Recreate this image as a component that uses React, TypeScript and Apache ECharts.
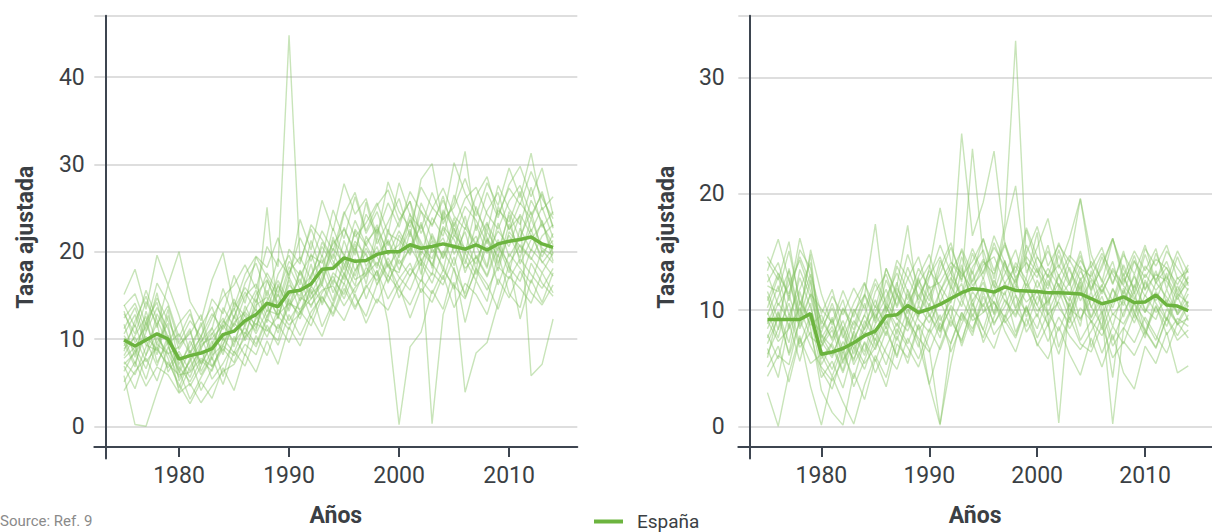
import React, { useEffect, useRef } from 'react';
import * as echarts from 'echarts';

const years = [
  1975, 1976, 1977, 1978, 1979, 1980, 1981, 1982, 1983, 1984,
  1985, 1986, 1987, 1988, 1989, 1990, 1991, 1992, 1993, 1994,
  1995, 1996, 1997, 1998, 1999, 2000, 2001, 2002, 2003, 2004,
  2005, 2006, 2007, 2008, 2009, 2010, 2011, 2012, 2013, 2014,
];
const xTickValues = [1980, 1990, 2000, 2010];

// Left panel: España (thick line)
const leftSpain = [9.9, 9.2, 9.9, 10.6, 10.0, 7.7, 8.1, 8.4, 8.9, 10.5, 10.9, 12.1, 12.8, 14.1, 13.7, 15.4, 15.6, 16.3, 18.0, 18.1, 19.3, 18.9, 19.0, 19.7, 20.0, 20.0, 20.8, 20.4, 20.6, 20.9, 20.6, 20.3, 20.8, 20.2, 20.9, 21.2, 21.4, 21.7, 20.9, 20.5];

// Left panel: provinces (thin lines)
const leftProvinces = [
  [13.8, 15.2, 11.6, 16.4, 14.1, 10.2, 12.9, 9.6, 12.4, 14.8, 16.2, 18.5, 15.7, 20.6, 18.3, 44.8, 18.9, 22.6, 19.4, 24.8, 21.5, 26.3, 22.1, 24.6, 20.7, 23.4, 25.8, 19.6, 23.9, 21.8, 26.5, 23.2, 20.9, 24.7, 26.8, 22.5, 25.6, 23.8, 26.9, 22.7],
  [5.8, 0.2, 0.0, 3.9, 7.4, 4.8, 2.6, 5.1, 3.2, 6.7, 4.1, 8.3, 6.2, 9.8, 7.1, 11.4, 9.2, 12.6, 10.3, 13.9, 12.1, 15.2, 11.8, 14.6, 13.3, 16.1, 12.4, 15.8, 14.2, 17.3, 13.6, 16.4, 15.1, 12.8, 16.9, 14.7, 17.8, 15.3, 13.9, 16.2],
  [15.1, 18.0, 13.4, 19.6, 16.2, 20.0, 14.3, 12.1, 16.8, 19.9, 13.7, 17.4, 19.5, 18.2, 21.6, 16.9, 23.7, 20.2, 25.9, 22.4, 27.8, 24.3, 26.1, 21.7, 28.0, 24.6, 22.8, 27.4, 25.1, 23.6, 30.2, 26.7, 24.1, 27.9, 25.3, 29.6, 26.2, 31.3, 24.8, 26.3],
  [9.2, 11.6, 8.1, 12.9, 10.3, 6.4, 9.8, 7.2, 10.6, 12.4, 9.1, 13.8, 11.2, 15.6, 12.3, 17.1, 14.4, 15.9, 19.6, 16.2, 21.3, 17.8, 20.4, 18.1, 22.6, 19.3, 23.8, 20.7, 19.2, 22.9, 21.4, 18.6, 23.1, 19.8, 22.4, 20.6, 24.3, 21.9, 19.4, 22.1],
  [6.3, 8.7, 5.4, 9.6, 11.8, 5.2, 7.6, 10.4, 6.8, 9.3, 12.7, 10.1, 14.6, 11.9, 16.3, 13.2, 17.8, 14.6, 16.7, 19.8, 17.4, 20.9, 16.3, 21.7, 18.2, 17.6, 22.3, 18.9, 21.2, 17.8, 23.4, 19.1, 16.7, 21.6, 18.4, 23.2, 19.9, 22.6, 18.7, 20.4],
  [11.7, 7.9, 13.2, 9.4, 8.3, 9.1, 11.2, 6.3, 8.7, 11.4, 13.6, 9.8, 12.3, 13.9, 10.7, 14.8, 16.9, 13.6, 17.2, 20.4, 18.6, 16.1, 21.8, 19.4, 17.2, 21.9, 19.6, 23.4, 18.1, 24.6, 19.7, 22.3, 17.9, 23.2, 20.8, 17.6, 22.7, 20.1, 23.6, 18.9],
  [8.1, 10.4, 12.6, 7.3, 9.7, 3.9, 6.8, 8.9, 5.4, 7.2, 9.6, 11.3, 9.4, 12.6, 15.2, 12.1, 14.3, 18.6, 13.9, 16.8, 15.1, 19.2, 14.6, 17.9, 11.8, 0.2, 9.1, 10.8, 15.6, 13.4, 18.2, 11.9, 16.7, 14.3, 19.8, 15.2, 13.6, 18.7, 16.4, 14.9],
  [7.4, 5.9, 9.1, 11.8, 6.2, 8.3, 4.6, 6.9, 9.8, 5.7, 10.3, 8.1, 12.7, 10.2, 13.4, 11.6, 12.9, 15.7, 11.4, 14.2, 17.6, 14.8, 12.6, 16.3, 18.9, 14.7, 17.3, 19.2, 0.3, 12.8, 16.5, 3.9, 8.4, 9.6, 14.1, 18.6, 12.3, 16.8, 14.2, 17.6],
  [13.2, 9.6, 11.4, 14.7, 12.1, 9.4, 10.6, 12.8, 8.2, 13.6, 11.4, 14.9, 16.3, 13.1, 17.4, 19.6, 16.2, 21.3, 17.6, 22.7, 19.4, 23.6, 20.8, 18.4, 22.1, 21.3, 19.8, 24.7, 21.4, 19.6, 23.9, 20.1, 21.8, 18.3, 25.2, 22.6, 24.1, 5.8, 7.1, 12.3],
  [10.6, 12.8, 9.3, 8.7, 13.4, 7.1, 9.2, 11.5, 13.7, 9.8, 14.2, 12.6, 10.9, 16.7, 14.1, 18.3, 15.7, 17.2, 20.6, 18.4, 22.8, 19.6, 25.7, 20.9, 23.4, 26.1, 21.7, 28.3, 30.1, 23.2, 25.6, 31.5, 22.4, 26.8, 23.9, 27.7, 29.8, 26.3, 29.6, 24.2],
  [4.1, 6.3, 7.8, 5.2, 9.1, 6.4, 3.1, 5.6, 7.9, 4.8, 8.6, 6.9, 10.4, 8.1, 11.7, 9.6, 13.2, 11.5, 14.8, 12.9, 16.4, 13.7, 15.9, 17.8, 14.6, 16.9, 18.7, 15.3, 17.6, 16.2, 19.4, 14.8, 17.9, 15.6, 18.3, 16.9, 19.2, 17.4, 15.8, 18.1],
  [12.4, 14.1, 10.9, 15.3, 9.6, 11.8, 13.4, 8.9, 11.2, 15.8, 12.3, 16.4, 18.7, 14.9, 19.2, 17.3, 21.6, 18.9, 22.4, 20.1, 24.6, 21.7, 23.3, 25.6, 22.1, 27.9, 24.2, 22.6, 26.8, 23.7, 25.1, 28.4, 24.7, 22.3, 27.6, 24.9, 23.1, 27.4, 22.8, 24.6],
  [7.8, 9.1, 6.6, 10.2, 8.4, 5.6, 7.4, 9.7, 11.3, 8.2, 12.6, 15.4, 13.2, 25.1, 12.4, 16.8, 13.1, 14.6, 16.2, 13.8, 17.4, 15.3, 18.2, 16.7, 19.3, 17.1, 15.6, 18.8, 16.4, 20.1, 17.9, 15.2, 19.6, 17.3, 21.4, 18.2, 16.6, 20.3, 18.9, 17.2],
  [10.1, 7.2, 10.8, 13.6, 11.2, 6.8, 5.1, 7.6, 6.3, 10.1, 8.4, 11.7, 13.4, 11.1, 9.8, 14.6, 12.3, 16.1, 14.2, 17.6, 16.3, 20.4, 17.1, 22.8, 19.7, 20.8, 23.6, 21.1, 18.4, 22.7, 20.3, 24.1, 19.2, 21.4, 17.8, 22.3, 20.6, 19.1, 21.8, 23.1],
  [5.1, 7.4, 4.6, 6.8, 5.9, 3.8, 4.9, 2.7, 4.6, 6.3, 7.1, 9.4, 8.2, 11.6, 9.3, 12.8, 10.4, 13.1, 14.9, 12.6, 15.8, 13.4, 16.2, 14.1, 17.3, 15.6, 13.9, 16.8, 15.2, 17.9, 16.1, 14.6, 18.1, 16.3, 13.4, 17.2, 15.8, 14.1, 17.6, 15.3],
  [8.6, 12.1, 14.9, 11.3, 16.2, 12.7, 8.4, 10.2, 14.6, 12.9, 17.3, 14.1, 19.4, 17.1, 14.8, 20.3, 18.6, 23.1, 21.4, 19.2, 24.3, 26.8, 22.4, 25.3, 27.1, 23.6, 25.8, 22.1, 24.9, 27.3, 24.1, 22.6, 26.4, 28.6, 24.2, 27.3, 25.4, 29.2, 26.1, 23.8],
  [9.6, 6.8, 11.9, 8.2, 12.7, 8.8, 10.9, 7.1, 9.4, 12.1, 10.8, 13.2, 15.6, 12.4, 16.1, 13.8, 17.9, 15.2, 16.4, 21.7, 17.9, 22.4, 18.3, 20.6, 16.4, 19.7, 22.6, 17.4, 21.8, 19.2, 22.7, 17.6, 20.9, 23.4, 18.7, 21.9, 19.3, 23.8, 20.4, 19.6],
  [11.2, 13.6, 9.8, 6.9, 10.4, 7.9, 5.6, 9.1, 10.7, 8.6, 11.9, 13.1, 11.6, 14.4, 16.7, 14.2, 12.8, 17.4, 19.1, 15.3, 18.4, 21.2, 19.6, 17.2, 21.4, 18.6, 20.3, 23.1, 19.9, 21.6, 18.4, 22.8, 20.7, 18.1, 23.3, 19.4, 21.7, 24.6, 19.9, 21.3],
  [6.9, 4.3, 8.2, 10.6, 7.8, 4.4, 7.9, 4.1, 6.6, 8.9, 7.3, 10.8, 9.1, 12.3, 11.2, 13.7, 15.8, 12.4, 15.3, 17.2, 14.6, 17.8, 19.9, 16.2, 18.6, 15.9, 18.1, 16.6, 20.4, 18.3, 15.7, 19.9, 17.4, 20.6, 16.2, 19.8, 18.1, 16.4, 20.2, 18.7],
  [13.9, 11.4, 15.6, 12.2, 9.4, 10.6, 8.3, 11.9, 7.6, 11.8, 14.6, 11.4, 15.1, 16.8, 13.6, 17.7, 19.4, 16.8, 21.1, 18.9, 16.8, 22.6, 20.7, 23.1, 19.6, 22.4, 20.1, 25.6, 22.9, 26.4, 21.8, 25.2, 23.6, 20.9, 24.8, 23.4, 26.9, 22.3, 25.1, 21.6],
  [8.9, 10.2, 7.4, 9.1, 6.7, 8.6, 6.3, 9.4, 10.1, 11.6, 9.7, 12.9, 10.6, 13.3, 12.8, 14.1, 13.4, 15.1, 17.8, 14.4, 19.2, 16.8, 17.6, 19.8, 21.2, 17.9, 20.6, 18.4, 22.1, 19.3, 21.9, 20.4, 18.6, 22.3, 20.1, 24.2, 18.6, 21.4, 23.2, 20.8],
  [10.4, 8.6, 12.1, 14.2, 9.3, 6.1, 8.7, 5.9, 8.1, 9.4, 11.8, 10.6, 13.9, 14.8, 12.7, 16.2, 14.9, 19.8, 16.1, 21.3, 19.7, 17.2, 21.1, 22.6, 18.3, 20.2, 24.4, 19.1, 17.3, 24.8, 22.6, 19.8, 25.2, 21.6, 19.4, 24.6, 21.3, 25.9, 23.4, 19.8],
  [7.1, 8.4, 10.3, 8.8, 7.1, 5.9, 6.2, 7.8, 6.9, 9.2, 8.1, 10.2, 11.8, 10.9, 12.6, 11.1, 14.8, 13.9, 15.6, 16.1, 13.8, 15.9, 17.4, 18.8, 16.6, 19.1, 17.2, 20.1, 18.6, 16.8, 20.8, 18.1, 19.4, 17.1, 20.6, 18.6, 20.8, 19.3, 17.6, 19.9],
  [12.9, 10.6, 14.3, 11.7, 13.8, 9.6, 12.1, 10.3, 12.9, 11.1, 13.4, 15.9, 14.2, 17.6, 15.3, 18.9, 17.3, 19.6, 18.7, 20.9, 22.6, 20.1, 24.3, 22.1, 25.6, 22.8, 26.9, 24.6, 23.1, 25.9, 22.9, 26.1, 27.4, 24.3, 22.6, 25.8, 27.6, 24.2, 26.6, 22.9],
];

// Right panel: España (thick line)
const rightSpain = [9.2, 9.2, 9.2, 9.2, 9.7, 6.2, 6.4, 6.7, 7.2, 7.8, 8.2, 9.5, 9.6, 10.4, 9.8, 10.1, 10.5, 11.0, 11.5, 11.85, 11.75, 11.55, 12.0, 11.7, 11.65, 11.6, 11.5, 11.5, 11.45, 11.4, 11.0, 10.55, 10.8, 11.15, 10.65, 10.7, 11.3, 10.45, 10.35, 9.95];

// Right panel: provinces (thin lines)
const rightProvinces = [
  [12.4, 14.1, 10.8, 15.2, 13.6, 8.4, 10.2, 7.6, 9.8, 11.3, 8.9, 12.6, 10.4, 13.7, 11.2, 12.9, 14.6, 11.8, 15.3, 13.1, 16.2, 12.7, 17.4, 33.2, 14.1, 12.8, 15.6, 11.9, 14.3, 12.6, 13.8, 11.4, 13.6, 12.2, 14.7, 11.8, 13.1, 12.5, 10.9, 12.8],
  [9.8, 7.6, 11.3, 8.4, 10.6, 5.3, 7.1, 4.8, 8.2, 6.4, 9.7, 7.8, 11.4, 9.2, 12.6, 10.8, 14.3, 12.1, 25.2, 16.4, 19.3, 23.7, 15.8, 13.2, 17.1, 14.6, 12.9, 15.8, 13.4, 11.7, 14.2, 12.6, 10.8, 13.9, 11.6, 14.8, 12.3, 13.7, 11.4, 12.9],
  [14.2, 12.6, 15.9, 10.4, 13.1, 9.7, 11.8, 8.3, 10.6, 12.4, 9.1, 13.6, 11.2, 14.8, 12.1, 10.3, 13.7, 15.8, 12.4, 23.9, 14.6, 11.9, 16.8, 20.7, 13.2, 15.4, 17.9, 13.6, 16.2, 19.6, 14.8, 12.4, 16.1, 13.5, 11.9, 15.3, 13.8, 15.6, 12.7, 13.4],
  [2.9, 0.0, 4.6, 7.8, 3.4, 0.1, 4.3, 2.1, 0.2, 3.6, 6.1, 4.2, 7.8, 5.4, 8.7, 3.6, 6.9, 9.4, 7.2, 10.6, 8.3, 11.4, 9.1, 7.6, 10.2, 8.4, 11.3, 6.8, 9.6, 12.1, 8.9, 10.7, 7.4, 9.8, 11.6, 8.2, 10.4, 7.9, 9.3, 8.6],
  [5.9, 9.8, 7.2, 11.6, 8.4, 3.1, 1.2, 0.1, 4.6, 2.3, 5.8, 3.4, 7.1, 5.9, 8.8, 6.7, 0.2, 5.4, 9.6, 7.8, 11.2, 8.9, 10.3, 12.7, 9.4, 11.8, 8.6, 10.9, 12.4, 9.1, 11.6, 8.3, 10.7, 13.2, 9.8, 7.6, 11.4, 9.2, 12.1, 10.3],
  [13.4, 16.1, 12.6, 9.3, 15.2, 11.4, 8.7, 10.9, 7.4, 9.6, 12.3, 10.1, 13.8, 11.6, 9.4, 12.8, 15.6, 13.2, 11.4, 14.9, 12.7, 15.8, 13.4, 11.6, 16.9, 13.8, 12.1, 15.2, 12.4, 14.7, 11.9, 13.6, 16.2, 12.9, 15.1, 13.4, 15.3, 11.8, 14.6, 12.1],
  [8.4, 10.6, 9.1, 12.8, 10.2, 7.3, 5.9, 8.6, 6.2, 9.1, 7.4, 10.3, 8.6, 11.4, 9.2, 8.1, 11.7, 9.3, 13.6, 10.8, 12.4, 9.7, 14.2, 11.3, 9.8, 12.6, 10.4, 13.1, 9.6, 12.8, 10.3, 8.7, 11.9, 9.4, 12.2, 10.1, 9.2, 11.8, 9.6, 10.8],
  [11.2, 8.3, 13.6, 9.7, 14.8, 6.8, 9.4, 5.7, 8.1, 10.6, 6.9, 9.8, 12.4, 8.6, 11.3, 9.7, 7.6, 12.1, 10.3, 13.4, 9.8, 11.6, 14.3, 10.2, 12.8, 16.7, 9.4, 0.3, 11.2, 8.6, 13.4, 10.1, 4.2, 11.7, 9.3, 12.6, 10.8, 13.2, 9.6, 11.4],
  [6.7, 4.2, 8.9, 5.6, 9.3, 4.8, 3.2, 6.4, 4.1, 7.3, 5.6, 8.2, 6.1, 9.4, 7.3, 3.6, 0.1, 7.2, 9.8, 8.1, 11.6, 8.7, 10.9, 9.6, 12.3, 10.4, 8.8, 11.7, 9.2, 12.4, 6.8, 9.6, 0.2, 8.4, 10.6, 7.9, 10.3, 8.6, 11.2, 9.1],
  [9.6, 12.1, 8.4, 13.5, 11.1, 7.6, 9.2, 6.6, 10.1, 8.3, 11.6, 13.1, 10.2, 12.7, 14.6, 11.3, 13.1, 15.4, 12.9, 14.2, 16.1, 13.4, 15.8, 12.6, 14.9, 17.2, 13.8, 15.6, 14.2, 19.6, 13.7, 15.4, 12.3, 14.8, 13.1, 15.6, 12.4, 15.1, 13.6, 12.3],
  [10.8, 13.2, 11.4, 14.6, 12.3, 7.8, 6.1, 8.4, 5.3, 7.2, 4.6, 6.8, 8.9, 7.1, 9.6, 12.1, 8.4, 10.2, 6.9, 9.7, 7.6, 10.8, 8.2, 6.4, 9.3, 7.1, 5.8, 8.6, 6.2, 4.4, 7.6, 5.1, 7.9, 4.6, 3.2, 6.9, 5.4, 8.1, 4.6, 5.2],
  [7.1, 9.4, 6.3, 10.8, 8.7, 9.6, 7.4, 10.1, 8.3, 11.2, 17.4, 9.8, 12.1, 17.3, 10.4, 13.6, 18.8, 14.2, 12.6, 15.3, 13.1, 16.4, 14.1, 12.2, 15.6, 13.4, 11.8, 14.7, 12.3, 15.1, 11.6, 13.9, 16.2, 12.4, 14.3, 11.7, 14.9, 12.6, 15.1, 13.2],
  [12.1, 11.6, 15.1, 10.8, 9.2, 8.1, 10.6, 7.9, 5.6, 8.7, 10.9, 8.4, 11.2, 9.1, 6.8, 10.6, 8.2, 11.4, 13.9, 10.3, 12.8, 9.6, 12.4, 10.1, 11.8, 9.4, 12.6, 10.2, 8.9, 11.7, 9.3, 11.2, 8.6, 11.9, 9.7, 12.4, 10.6, 9.1, 11.4, 10.6],
  [5.1, 6.9, 3.8, 7.6, 5.4, 6.2, 4.3, 6.9, 3.4, 5.7, 8.1, 6.3, 4.9, 7.6, 5.8, 8.4, 6.6, 9.1, 7.4, 10.2, 8.3, 6.7, 9.6, 7.8, 10.4, 6.9, 8.8, 6.2, 9.4, 7.1, 6.4, 8.7, 5.9, 7.3, 6.1, 8.2, 6.7, 9.3, 7.4, 8.3],
  [11.6, 9.2, 12.8, 8.6, 11.4, 10.1, 8.9, 11.7, 9.4, 12.3, 10.2, 13.6, 11.4, 9.7, 12.9, 14.8, 11.6, 13.3, 15.1, 12.4, 14.2, 13.1, 15.6, 12.8, 14.1, 11.9, 13.6, 12.1, 10.8, 13.4, 11.7, 14.6, 12.2, 15.1, 11.4, 13.8, 12.6, 14.2, 11.6, 13.6],
  [7.9, 5.8, 9.7, 6.8, 8.1, 4.2, 5.6, 3.3, 6.8, 4.9, 7.6, 5.3, 8.4, 6.8, 5.1, 7.9, 9.6, 6.4, 8.8, 10.9, 7.2, 9.4, 11.6, 8.1, 10.3, 7.6, 9.8, 8.2, 10.6, 7.4, 9.1, 6.3, 8.6, 7.1, 9.7, 8.3, 6.8, 9.4, 7.8, 9.6],
  [10.2, 12.9, 9.6, 11.8, 14.1, 7.2, 8.6, 6.3, 9.1, 7.8, 10.4, 8.7, 11.9, 10.2, 12.8, 9.4, 11.6, 13.8, 10.9, 12.6, 14.4, 11.2, 13.1, 15.2, 11.8, 13.6, 10.6, 12.9, 11.4, 13.8, 10.2, 12.1, 14.2, 10.8, 12.9, 11.2, 13.4, 10.6, 12.8, 11.7],
  [8.8, 11.1, 13.4, 9.2, 12.6, 5.8, 7.2, 9.1, 6.7, 8.4, 9.9, 11.8, 9.2, 10.6, 12.3, 13.9, 10.7, 12.8, 11.2, 13.7, 15.2, 12.1, 11.3, 14.1, 12.6, 10.4, 13.1, 11.1, 13.7, 10.8, 12.6, 9.6, 11.8, 10.4, 13.1, 9.8, 12.4, 11.1, 9.8, 11.9],
  [6.2, 8.4, 10.6, 7.1, 9.6, 6.6, 4.9, 7.3, 5.8, 8.1, 6.6, 9.1, 7.4, 10.1, 8.3, 9.6, 8.1, 10.4, 9.1, 11.6, 10.3, 12.6, 10.8, 9.4, 11.8, 9.9, 10.8, 12.3, 10.1, 9.3, 10.9, 12.2, 9.6, 10.8, 8.9, 11.3, 9.8, 10.9, 8.7, 10.4],
  [13.1, 10.4, 12.2, 14.3, 11.6, 9.1, 7.6, 10.2, 8.7, 11.4, 9.3, 11.1, 13.2, 10.9, 13.6, 11.9, 12.4, 14.1, 13.2, 11.8, 13.9, 14.6, 12.3, 13.8, 12.1, 14.6, 12.8, 13.9, 12.1, 14.3, 12.7, 11.6, 13.4, 12.1, 10.9, 13.1, 11.7, 12.9, 11.2, 12.4],
  [9.1, 7.3, 8.4, 10.2, 7.7, 6.9, 8.3, 5.4, 7.9, 6.1, 8.8, 10.4, 7.9, 11.8, 9.6, 11.4, 9.1, 10.8, 12.3, 9.4, 11.9, 10.6, 9.4, 12.2, 10.7, 11.6, 9.8, 11.9, 10.3, 12.6, 9.4, 11.8, 10.2, 12.8, 11.1, 9.8, 11.6, 10.3, 8.9, 10.7],
  [14.6, 13.1, 11.2, 16.2, 12.8, 8.8, 11.2, 9.6, 11.9, 10.1, 12.7, 10.6, 14.3, 12.8, 10.9, 13.4, 12.1, 10.6, 14.6, 12.1, 13.3, 15.4, 13.8, 12.4, 14.6, 13.2, 15.1, 12.9, 14.7, 13.6, 12.9, 14.9, 13.1, 11.4, 14.2, 12.8, 14.4, 13.6, 12.2, 13.9],
  [7.6, 9.9, 6.1, 9.1, 11.4, 7.9, 6.8, 4.6, 7.4, 9.6, 7.9, 10.6, 9.3, 8.2, 10.4, 8.9, 10.8, 8.6, 10.9, 9.1, 9.8, 10.7, 8.9, 10.1, 8.6, 11.2, 9.6, 10.7, 8.4, 10.2, 9.1, 7.8, 9.7, 8.8, 10.6, 9.1, 7.4, 10.1, 8.8, 9.3],
  [4.3, 6.1, 5.3, 9.2, 6.9, 5.1, 3.9, 5.7, 7.1, 5.4, 6.8, 8.6, 5.9, 9.1, 7.6, 6.4, 8.9, 7.1, 9.8, 8.4, 10.6, 7.9, 9.2, 11.3, 8.1, 9.7, 7.3, 9.4, 7.8, 6.6, 8.2, 9.9, 6.9, 8.5, 7.2, 9.4, 7.8, 6.3, 8.9, 7.6],
];

const yTitle = 'Tasa ajustada';
const xTitle = 'Años';
const legendName = 'España';
const sourceText = 'Source: Ref. 9';

const FONT = "Roboto, 'DejaVu Sans Condensed', sans-serif";
const TEXT_COLOR = '#3b3f44';
const AXIS_COLOR = '#3d4550';
const GRID_COLOR = '#d3d3d3';
const THIN_COLOR = '#84c463';
const SPAIN_COLOR = '#6cb43f';

const toPairs = (vals: number[]) => years.map((y, i) => [y, vals[i]]);

function xAxisCfg(gridIndex: number) {
  return {
    type: 'value',
    gridIndex,
    min: 1972.3,
    max: 2016.2,
    offset: -11.6,
    name: xTitle,
    nameLocation: 'middle',
    nameGap: 57,
    nameTextStyle: { fontFamily: FONT, fontWeight: 'bold', fontSize: 23, color: TEXT_COLOR },
    axisLine: { onZero: false, lineStyle: { color: AXIS_COLOR, width: 2 } },
    axisTick: { show: true, length: 10, customValues: xTickValues, lineStyle: { color: AXIS_COLOR, width: 2 } },
    axisLabel: {
      customValues: xTickValues,
      fontFamily: FONT,
      fontSize: 23,
      color: TEXT_COLOR,
      margin: 17,
      formatter: (v: number) => String(v),
    },
    splitLine: { show: false },
  };
}

function yAxisCfg(gridIndex: number, min: number, max: number, labelMargin: number, nameGap: number) {
  return {
    type: 'value',
    gridIndex,
    min,
    max,
    offset: -11.5,
    name: yTitle,
    nameLocation: 'middle',
    nameGap,
    nameTextStyle: { fontFamily: FONT, fontWeight: 'bold', fontSize: 23, color: TEXT_COLOR },
    axisLine: { show: true, onZero: false, lineStyle: { color: AXIS_COLOR, width: 2 } },
    axisTick: { show: false },
    axisLabel: {
      showMinLabel: false,
      showMaxLabel: false,
      fontFamily: FONT,
      fontSize: 23,
      color: TEXT_COLOR,
      margin: labelMargin,
    },
    splitLine: { show: true, showMinLine: false, showMaxLine: true, lineStyle: { color: GRID_COLOR, width: 1.5 } },
  };
}

function panelSeries(gridIndex: number, provinces: number[][], spain: number[]) {
  const thin = provinces.map((vals, k) => ({
    type: 'line',
    name: 'prov' + gridIndex + '_' + k,
    xAxisIndex: gridIndex,
    yAxisIndex: gridIndex,
    data: toPairs(vals),
    symbol: 'none',
    silent: true,
    z: 2,
    lineStyle: { width: 1.4, color: THIN_COLOR, opacity: 0.45 },
    itemStyle: { color: THIN_COLOR },
  }));
  const main = {
    type: 'line',
    name: legendName,
    xAxisIndex: gridIndex,
    yAxisIndex: gridIndex,
    data: toPairs(spain),
    symbol: 'none',
    z: 3,
    lineStyle: { width: 3.5, color: SPAIN_COLOR },
    itemStyle: { color: SPAIN_COLOR },
  };
  return [...thin, main];
}

export default function App() {
  const ref = useRef<HTMLDivElement>(null);
  useEffect(() => {
    if (!ref.current) return;
    const chart = echarts.init(ref.current, null, { renderer: 'svg' });
    chart.setOption({
      animation: false,
      backgroundColor: '#ffffff',
      grid: [
        { left: 94.3, top: 15.7, width: 483, height: 447.6 },
        { left: 738.3, top: 15.7, width: 483, height: 447.6 },
      ],
      xAxis: [xAxisCfg(0), xAxisCfg(1)],
      yAxis: [yAxisCfg(0, -3.7, 47.05, 21, 69), yAxisCfg(1, -2.78, 35.35, 25, 72)],
      legend: {
        data: [legendName],
        left: 594,
        top: 512,
        padding: 0,
        icon: 'rect',
        itemWidth: 29,
        itemHeight: 4,
        textStyle: { fontFamily: FONT, fontSize: 19, color: TEXT_COLOR, padding: [0, 0, 0, 9] },
      },
      graphic: [
        {
          type: 'text',
          left: 0,
          top: 513,
          style: { text: sourceText, fontFamily: FONT, fontSize: 15, fill: '#8a8a8a' },
        },
      ],
      series: [...panelSeries(0, leftProvinces, leftSpain), ...panelSeries(1, rightProvinces, rightSpain)],
    });
    return () => chart.dispose();
  }, []);
  return (
    <div
      ref={ref}
      style={{ position: 'fixed', left: 0, top: 0, width: 1212, height: 532, background: '#fff' }}
    />
  );
}
